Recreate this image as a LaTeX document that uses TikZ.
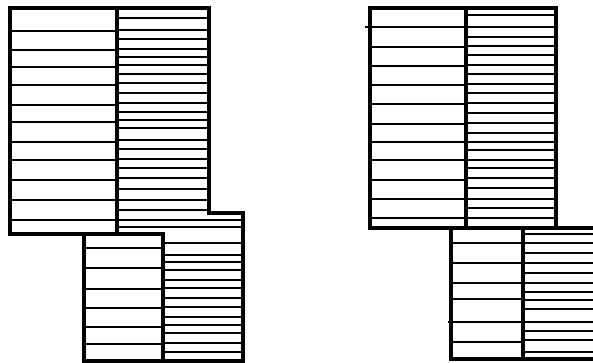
\documentclass[tikz,border=0pt]{standalone}

\begin{document}
\begin{tikzpicture}[
  x=1pt,
  y=-1pt,
  outline/.style={draw=black, line width=3.2pt, line cap=rect},
  hatch/.style={draw=black, line width=1.9pt},
  hatchthin/.style={draw=black, line width=1.5pt}
]

  \useasboundingbox (0,0) rectangle (593,363);
  \clip (0,0) rectangle (593,363);

  % Left figure, upper part
  \foreach \y in {31,50,67,85,105,122,142,160,180,200,220}
    \draw[hatch] (10,\y) -- (117,\y);
  \foreach \y in {18,30,39,49,57,65,74,83,93,103,112,120,128,140,149,159,168,178,189,200,210}
    \draw[hatchthin] (117,\y) -- (209,\y);
  \foreach \y in {220,227}
    \draw[hatchthin] (117,\y) -- (243,\y);

  % Left figure, lower part
  \foreach \y in {248,268,289,308,327,344}
    \draw[hatch] (84,\y) -- (163,\y);
  \foreach \y in {243,255,262,270,280,288,298,307,317,325,333,343,352}
    \draw[hatchthin] (163,\y) -- (243,\y);

  % Left figure, outline
  \draw[outline] (10,234) -- (10,8) -- (209,8) -- (209,213) -- (243,213)
    -- (243,361) -- (84,361) -- (84,234);
  \draw[outline] (10,234) -- (163,234);
  \draw[outline] (117,8) -- (117,234);
  \draw[outline] (163,234) -- (163,361);

  % Right figure, upper part
  \foreach \y in {47,66,85,104,124,142,160,180,199,218}
    \draw[hatch] (370,\y) -- (466,\y);
  \draw[hatch] (365,27) -- (466,27);
  \foreach \y in {15,27,37,46,55,65,74,84,93,103,113,123,133,142,150,160,168,178,188,199,208,218}
    \draw[hatchthin] (466,\y) -- (556,\y);

  % Right figure, lower part
  \foreach \y in {243,263,283,299,342}
    \draw[hatch] (451,\y) -- (523,\y);
  \draw[hatch] (448,322) -- (523,322);
  \foreach \y in {234,243,253,263,273,283,292,300,309,322,331,340,352}
    \draw[hatchthin] (523,\y) -- (600,\y);

  % Right figure, outline
  \draw[outline] (370,228) -- (370,8) -- (556,8) -- (556,228);
  \draw[outline] (370,228) -- (600,228);
  \draw[outline] (466,8) -- (466,228);
  \draw[outline] (451,228) -- (451,359) -- (600,359);
  \draw[outline] (523,228) -- (523,359);

\end{tikzpicture}
\end{document}
